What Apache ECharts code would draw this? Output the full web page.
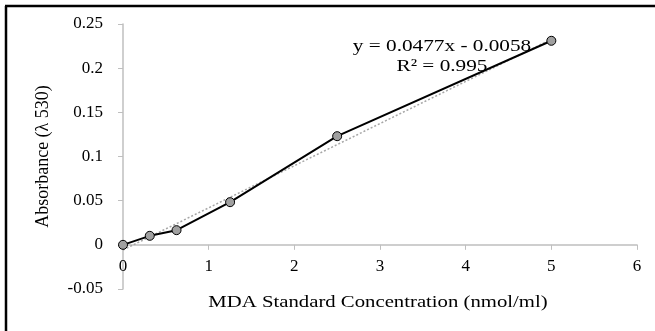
<!DOCTYPE html>
<html>
<head>
<meta charset="utf-8">
<script src="https://cdn.jsdelivr.net/npm/echarts@6/dist/echarts.min.js"></script>
<style>
  html, body { margin: 0; padding: 0; background: #fff; }
  #chart { width: 655px; height: 331px; }
</style>
</head>
<body>
<div id="chart"></div>
<script>
// MDA standard curve
const concentration = [0, 0.3125, 0.625, 1.25, 2.5, 5]
const absorbance = [0, 0.0102, 0.0166, 0.0483, 0.123, 0.231]
// linear trendline end points (y = 0.0477x - 0.0058)
const trendX = [0, 5]
const trendY = [-0.0058, 0.2327]
const equationText = 'y = 0.0477x - 0.0058'
const r2Text = 'R² = 0.995'
const xTitle = 'MDA Standard Concentration (nmol/ml)'
const yTitle = 'Absorbance (λ 530)'

const serif = '"Liberation Serif", "DejaVu Serif", serif'

const chart = echarts.init(document.getElementById('chart'))
const option = {
  animation: false,
  textStyle: { fontFamily: serif },
  grid: { left: 123, right: 18, top: 24, bottom: 42, outerBoundsMode: 'none' },
  xAxis: {
    type: 'value',
    min: 0,
    max: 6,
    interval: 1,
    axisLine: { onZero: true, lineStyle: { color: '#bfbfbf', width: 1.5 } },
    axisTick: { show: true, length: 5, lineStyle: { color: '#bfbfbf' } },
    // labels sit under the zero line, not at the grid bottom
    axisLabel: { fontFamily: serif, fontSize: 17, color: '#000', margin: -31 },
    splitLine: { show: false }
  },
  yAxis: {
    type: 'value',
    min: -0.05,
    max: 0.25,
    interval: 0.05,
    name: yTitle,
    nameLocation: 'middle',
    nameGap: 71,
    nameRotate: 90,
    nameTextStyle: { fontFamily: serif, fontSize: 18, color: '#000' },
    axisLine: { show: true, onZero: false, lineStyle: { color: '#bfbfbf', width: 1.5 } },
    axisTick: { show: true, length: 5, lineStyle: { color: '#bfbfbf' } },
    axisLabel: {
      fontFamily: serif, fontSize: 17, color: '#000', margin: 20,
      formatter: v => String(Math.round(v * 100) / 100)
    },
    splitLine: { show: false }
  },
  series: [
    {
      name: 'trend',
      type: 'line',
      data: trendX.map((x, i) => [x, trendY[i]]),
      symbol: 'none',
      z: 1,
      lineStyle: { color: '#a6a6a6', width: 1.5, type: [2, 2] }
    },
    {
      name: 'MDA',
      type: 'line',
      data: concentration.map((x, i) => [x, absorbance[i]]),
      symbol: 'circle',
      symbolSize: 9,
      z: 2,
      lineStyle: { color: '#000', width: 2 },
      itemStyle: { color: '#a0a0a0', borderColor: '#000', borderWidth: 1 }
    }
  ],
  graphic: [
    { type: 'line', shape: { x1: 6, y1: 6, x2: 6, y2: 331 }, style: { stroke: '#000', lineWidth: 2.5 } },
    { type: 'line', shape: { x1: 5, y1: 6, x2: 655, y2: 6 }, style: { stroke: '#000', lineWidth: 2.5 } },
    {
      type: 'text', x: 442, y: 47, scaleX: 1.25, z: 10,
      style: { text: equationText, font: '17px ' + serif, fill: '#000', align: 'center', verticalAlign: 'middle' }
    },
    {
      type: 'text', x: 442, y: 67, scaleX: 1.25, z: 10,
      style: { text: r2Text, font: '17px ' + serif, fill: '#000', align: 'center', verticalAlign: 'middle' }
    },
    {
      type: 'text', x: 378, y: 303, scaleX: 1.22, z: 10,
      style: { text: xTitle, font: '17px ' + serif, fill: '#000', align: 'center', verticalAlign: 'middle' }
    }
  ]
}
chart.setOption(option)
</script>
</body>
</html>
